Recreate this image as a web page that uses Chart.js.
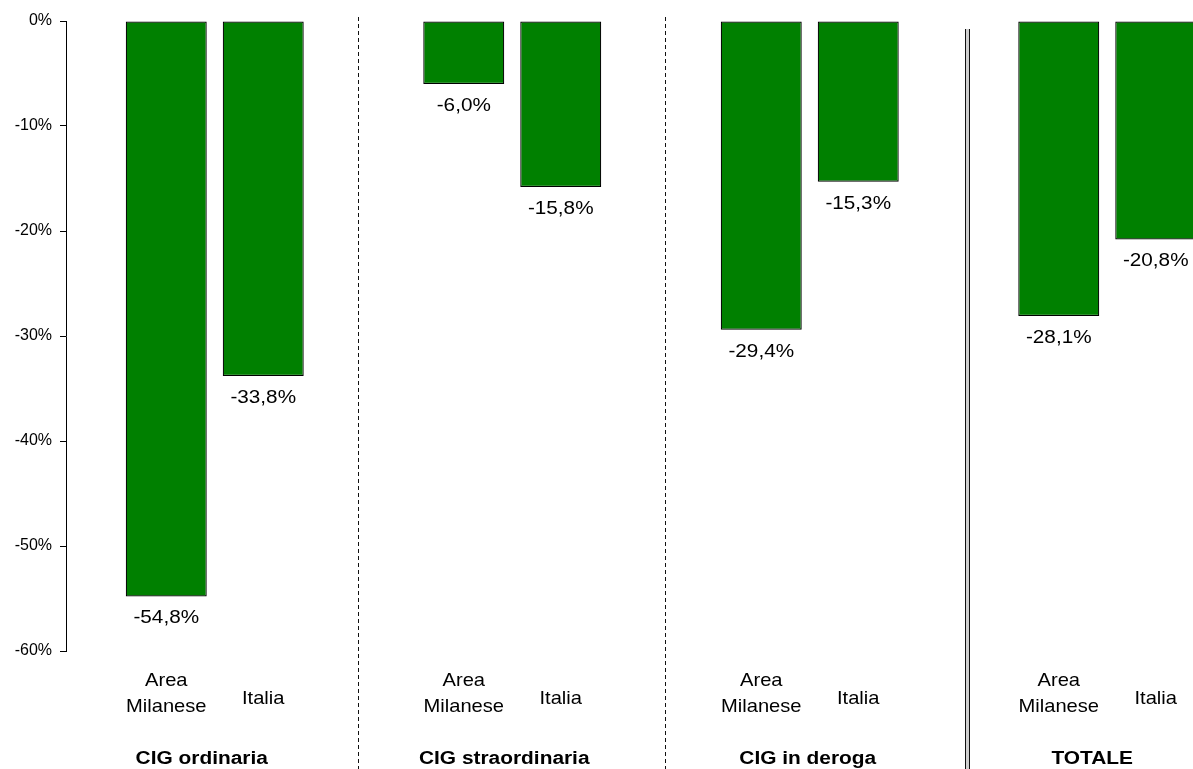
<!DOCTYPE html>
<html lang="it">
<head>
<meta charset="utf-8">
<title>Cassa integrazione guadagni - variazione %</title>
<script src="https://cdn.jsdelivr.net/npm/chart.js@4.4.1/dist/chart.umd.min.js"></script>
<style>
    html, body { margin: 0; padding: 0; background: #fff; overflow: hidden; }
    #contenitore { position: relative; width: 1256px; height: 769px; }
</style>
</head>
<body>
<div id="contenitore"><canvas id="grafico"></canvas></div>
<script>
var gruppi = ["CIG ordinaria", "CIG straordinaria", "CIG in deroga", "TOTALE"];
var nomiSerie = [["Area", "Milanese"], ["Italia"]];
var areaMilanese = [-54.8, -6.0, -29.4, -28.1];
var italia = [-33.8, -15.8, -15.3, -20.8];
var tickAsseY = [0, -10, -20, -30, -40, -50, -60];

var verde = "rgb(0, 128, 0)";
var fontBase = "'Liberation Sans', Arial, sans-serif";

// scrive un testo allargato in orizzontale (come nel grafico originale di Excel)
function testoLargo(ctx, testo, x, y, sx) {
    ctx.save();
    ctx.translate(x, y);
    ctx.scale(sx, 1);
    ctx.fillText(testo, 0, 0);
    ctx.restore();
}

function formatta(v) {
    return v.toFixed(1).replace(".", ",") + "%";
}

// linee di separazione tra i gruppi: tratteggiate e doppia prima del totale
var separatori = {
    id: "separatori",
    beforeDatasetsDraw: function (chart) {
        var ctx = chart.ctx;
        var x = chart.scales.x;
        var spostamento = [-5.5, 4, 8];
        ctx.save();
        for (var i = 0; i < gruppi.length - 1; i++) {
            var xm = (x.getPixelForValue(i) + x.getPixelForValue(i + 1)) / 2 + spostamento[i];
            if (i < gruppi.length - 2) {
                ctx.strokeStyle = "#111";
                ctx.lineWidth = 1;
                ctx.setLineDash([4, 3]);
                ctx.beginPath();
                ctx.moveTo(Math.round(xm) + 0.5, 17);
                ctx.lineTo(Math.round(xm) + 0.5, chart.height);
                ctx.stroke();
            } else {
                ctx.setLineDash([]);
                ctx.fillStyle = "#cfcfcf";
                ctx.fillRect(Math.round(xm) - 2, 29, 4, chart.height - 29);
                ctx.strokeStyle = "#111";
                ctx.lineWidth = 1;
                ctx.beginPath();
                ctx.moveTo(Math.round(xm) - 1.5, 29);
                ctx.lineTo(Math.round(xm) - 1.5, chart.height);
                ctx.moveTo(Math.round(xm) + 2.5, 29);
                ctx.lineTo(Math.round(xm) + 2.5, chart.height);
                ctx.stroke();
            }
        }
        ctx.restore();
    }
};

// valori sotto le barre, nomi delle serie e nomi dei gruppi
var etichette = {
    id: "etichette",
    afterDatasetsDraw: function (chart) {
        var ctx = chart.ctx;
        var fondo = chart.chartArea.bottom;
        var x = chart.scales.x;
        ctx.save();
        ctx.fillStyle = "#000";
        ctx.textAlign = "center";
        ctx.textBaseline = "alphabetic";

        chart.data.datasets.forEach(function (ds, i) {
            var meta = chart.getDatasetMeta(i);
            meta.data.forEach(function (barra, j) {
                ctx.font = "18px " + fontBase;
                testoLargo(ctx, formatta(ds.data[j]), barra.x, barra.y + 27, 1.15);

                ctx.font = "19px " + fontBase;
                var righe = nomiSerie[i];
                if (righe.length == 2) {
                    testoLargo(ctx, righe[0], barra.x, fondo + 35, 1.06);
                    testoLargo(ctx, righe[1], barra.x, fondo + 61, 1.06);
                } else {
                    testoLargo(ctx, righe[0], barra.x, fondo + 53, 1.06);
                }
            });
        });

        var spostaGruppo = [-13, -8, -2, -15];
        ctx.font = "bold 18px " + fontBase;
        gruppi.forEach(function (g, j) {
            testoLargo(ctx, g, x.getPixelForValue(j) + spostaGruppo[j], fondo + 113, 1.16);
        });
        ctx.restore();
    }
};

var ctx = document.getElementById("grafico");
var grafico = new Chart(ctx, {
    type: "bar",
    data: {
        labels: gruppi,
        datasets: [{
            label: "Area Milanese",
            data: areaMilanese,
            backgroundColor: verde,
            borderColor: "#000",
            borderWidth: 1.2,
            borderSkipped: false,
            barPercentage: 0.835,
            categoryPercentage: 0.652
        }, {
            label: "Italia",
            data: italia,
            backgroundColor: verde,
            borderColor: "#000",
            borderWidth: 1.2,
            borderSkipped: false,
            barPercentage: 0.835,
            categoryPercentage: 0.652
        }]
    },
    options: {
        responsive: true,
        maintainAspectRatio: false,
        animation: false,
        layout: { padding: { top: 21, bottom: 118, left: 0, right: 0 } },
        plugins: {
            legend: { display: false },
            tooltip: { enabled: false }
        },
        scales: {
            x: { display: false },
            y: {
                min: -60,
                max: 0,
                afterBuildTicks: function (s) {
                    s.ticks = tickAsseY.map(function (v) { return { value: v }; });
                },
                afterFit: function (s) { s.width = 66; },
                border: { display: true, color: "#000", width: 1 },
                grid: { drawOnChartArea: false, drawTicks: true, tickLength: 6, color: "#000" },
                ticks: {
                    padding: 8,
                    color: "#000",
                    font: { family: fontBase, size: 16 },
                    callback: function (v) { return v + "%"; }
                }
            }
        }
    },
    plugins: [separatori, etichette]
});
</script>
</body>
</html>
